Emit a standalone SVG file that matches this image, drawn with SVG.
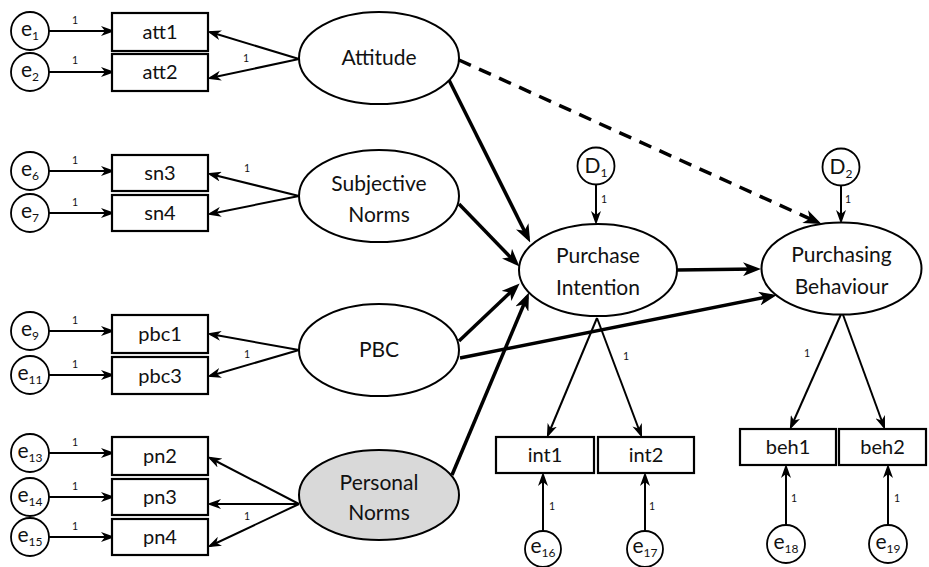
<svg xmlns="http://www.w3.org/2000/svg" width="929" height="567" viewBox="0 0 929 567">
  <style>
    text { font-family: Lato, "Open Sans", "Liberation Sans", sans-serif; fill: #111; }
    .lat { fill: #fff; stroke: #000; stroke-width: 2; }
    .latg { fill: #d9d9d9; stroke: #000; stroke-width: 2; }
    .obs { fill: #fff; stroke: #000; stroke-width: 2.2; }
    .err { fill: #fff; stroke: #000; stroke-width: 1.8; }
    .big { font-size: 21px; text-anchor: middle; }
    .box { font-size: 20px; text-anchor: middle; }
    .ev { font-size: 21px; text-anchor: middle; }
    .sub { font-size: 12px; }
    .one { font-size: 10.5px; text-anchor: middle; }
    .thin { stroke: #000; stroke-width: 2; fill: none; marker-end: url(#ah); }
    .thick { stroke: #000; stroke-width: 3.5; fill: none; marker-end: url(#ahb); }
    .dash { stroke: #000; stroke-width: 3.5; fill: none; stroke-dasharray: 13 9; marker-end: url(#ahb); }
  </style>
  <defs>
    <marker id="ah" markerUnits="userSpaceOnUse" viewBox="0 0 14 10" refX="11" refY="5" markerWidth="14" markerHeight="10" orient="auto">
      <path d="M0,0 L14,5 L0,10 L4,5 z" fill="#000"/>
    </marker>
    <marker id="ahb" markerUnits="userSpaceOnUse" viewBox="0 0 18 14" refX="13" refY="7" markerWidth="18" markerHeight="14" orient="auto">
      <path d="M0,0 L18,7 L0,14 L5,7 z" fill="#000"/>
    </marker>
  </defs>

  <!-- connectors -->
  <g id="connectors">
    <!-- error terms to indicators -->
    <line class="thin" x1="49" y1="31" x2="112" y2="31"/>
    <line class="thin" x1="49" y1="72" x2="112" y2="72"/>
    <line class="thin" x1="49" y1="171" x2="112" y2="171"/>
    <line class="thin" x1="49" y1="213" x2="112" y2="213"/>
    <line class="thin" x1="49" y1="331" x2="112" y2="331"/>
    <line class="thin" x1="49" y1="375" x2="112" y2="375"/>
    <line class="thin" x1="49" y1="453" x2="112" y2="453"/>
    <line class="thin" x1="49" y1="497" x2="112" y2="497"/>
    <line class="thin" x1="49" y1="537" x2="112" y2="537"/>
    <!-- loadings -->
    <line class="thin" x1="299" y1="59" x2="210" y2="32"/>
    <line class="thin" x1="299" y1="59" x2="210" y2="78"/>
    <line class="thin" x1="299" y1="196" x2="210" y2="174"/>
    <line class="thin" x1="299" y1="196" x2="210" y2="214"/>
    <line class="thin" x1="299" y1="350" x2="210" y2="334"/>
    <line class="thin" x1="299" y1="350" x2="210" y2="376"/>
    <line class="thin" x1="299" y1="504" x2="210" y2="458"/>
    <line class="thin" x1="299" y1="504" x2="210" y2="504"/>
    <line class="thin" x1="299" y1="504" x2="210" y2="546"/>
    <line class="thin" x1="597" y1="318" x2="548" y2="435"/>
    <line class="thin" x1="597" y1="318" x2="641" y2="435"/>
    <line class="thin" x1="842" y1="312" x2="791" y2="427"/>
    <line class="thin" x1="842" y1="312" x2="884" y2="427"/>
    <!-- disturbances -->
    <line class="thin" x1="596" y1="185" x2="596" y2="222"/>
    <line class="thin" x1="841" y1="186" x2="841" y2="221"/>
    <!-- measurement errors of outcome indicators -->
    <line class="thin" x1="543" y1="530" x2="543" y2="475"/>
    <line class="thin" x1="645" y1="530" x2="645" y2="475"/>
    <line class="thin" x1="786" y1="525" x2="786" y2="467"/>
    <line class="thin" x1="888" y1="525" x2="888" y2="467"/>
    <!-- structural paths -->
    <line class="thick" x1="449" y1="80" x2="528" y2="238"/>
    <line class="thick" x1="459" y1="204" x2="516" y2="263"/>
    <line class="thick" x1="459" y1="341" x2="516" y2="287"/>
    <line class="thick" x1="452" y1="475" x2="527" y2="297"/>
    <line class="thick" x1="460" y1="358" x2="772" y2="296"/>
    <line class="thick" x1="677" y1="270" x2="756" y2="269"/>
    <line class="dash" x1="459" y1="60" x2="817" y2="222"/>
    <!-- path weights -->
    <text class="one" x="75" y="24">1</text>
    <text class="one" x="75" y="64">1</text>
    <text class="one" x="75" y="164">1</text>
    <text class="one" x="75" y="206">1</text>
    <text class="one" x="75" y="324">1</text>
    <text class="one" x="75" y="368">1</text>
    <text class="one" x="75" y="446">1</text>
    <text class="one" x="75" y="490">1</text>
    <text class="one" x="75" y="530">1</text>
    <text class="one" x="246" y="62">1</text>
    <text class="one" x="247" y="172">1</text>
    <text class="one" x="247" y="358">1</text>
    <text class="one" x="247" y="520">1</text>
    <text class="one" x="604" y="203">1</text>
    <text class="one" x="848" y="203">1</text>
    <text class="one" x="626" y="360">1</text>
    <text class="one" x="807" y="357">1</text>
    <text class="one" x="552" y="510">1</text>
    <text class="one" x="652" y="510">1</text>
    <text class="one" x="794" y="502">1</text>
    <text class="one" x="897" y="502">1</text>
  </g>

  <!-- latent constructs -->
  <g id="attitude"><ellipse class="lat" cx="379" cy="58" rx="80" ry="46"/><text class="big" x="379" y="65">Attitude</text></g>
  <g id="subjective-norms"><ellipse class="lat" cx="379" cy="196" rx="80" ry="46"/><text class="big" x="379" y="191">Subjective</text><text class="big" x="379" y="222">Norms</text></g>
  <g id="pbc"><ellipse class="lat" cx="379" cy="350" rx="80" ry="46"/><text class="big" x="379" y="357">PBC</text></g>
  <g id="personal-norms"><ellipse class="latg" cx="379" cy="495" rx="80" ry="45"/><text class="big" x="379" y="490">Personal</text><text class="big" x="379" y="520">Norms</text></g>
  <g id="purchase-intention"><ellipse class="lat" cx="598" cy="270" rx="79" ry="46"/><text class="big" x="598" y="263">Purchase</text><text class="big" x="598" y="295">Intention</text></g>
  <g id="purchasing-behaviour"><ellipse class="lat" cx="841.5" cy="268.5" rx="80" ry="46"/><text class="big" x="841.5" y="262">Purchasing</text><text class="big" x="841.5" y="294">Behaviour</text></g>

  <!-- disturbances -->
  <g id="d1"><circle class="err" cx="596" cy="166" r="18.5"/><text class="ev" x="596" y="173">D<tspan class="sub" dy="4">1</tspan></text></g>
  <g id="d2"><circle class="err" cx="841" cy="167" r="18.5"/><text class="ev" x="841" y="174">D<tspan class="sub" dy="4">2</tspan></text></g>

  <!-- observed indicators -->
  <g id="att1"><rect class="obs" x="112" y="13" width="96" height="38"/><text class="box" x="160" y="39">att1</text></g>
  <g id="att2"><rect class="obs" x="112" y="54" width="96" height="37"/><text class="box" x="160" y="79">att2</text></g>
  <g id="sn3"><rect class="obs" x="112" y="155" width="96" height="36"/><text class="box" x="160" y="180">sn3</text></g>
  <g id="sn4"><rect class="obs" x="112" y="195" width="96" height="36"/><text class="box" x="160" y="220">sn4</text></g>
  <g id="pbc1"><rect class="obs" x="112" y="315" width="96" height="38"/><text class="box" x="160" y="341">pbc1</text></g>
  <g id="pbc3"><rect class="obs" x="112" y="357" width="96" height="37"/><text class="box" x="160" y="383">pbc3</text></g>
  <g id="pn2"><rect class="obs" x="112" y="437" width="96" height="38"/><text class="box" x="160" y="463">pn2</text></g>
  <g id="pn3"><rect class="obs" x="112" y="479" width="96" height="36"/><text class="box" x="160" y="504">pn3</text></g>
  <g id="pn4"><rect class="obs" x="112" y="519" width="96" height="36"/><text class="box" x="160" y="544">pn4</text></g>
  <g id="int1"><rect class="obs" x="496" y="437" width="98" height="36"/><text class="box" x="545" y="462">int1</text></g>
  <g id="int2"><rect class="obs" x="598" y="437" width="96" height="36"/><text class="box" x="646" y="462">int2</text></g>
  <g id="beh1"><rect class="obs" x="740" y="429" width="96" height="36"/><text class="box" x="788" y="454">beh1</text></g>
  <g id="beh2"><rect class="obs" x="839" y="429" width="87" height="36"/><text class="box" x="882.5" y="454">beh2</text></g>

  <!-- error terms -->
  <g id="e1"><circle class="err" cx="30" cy="31" r="19"/><text class="ev" x="30" y="36">e<tspan class="sub" dy="4">1</tspan></text></g>
  <g id="e2"><circle class="err" cx="30" cy="72" r="19"/><text class="ev" x="30" y="77">e<tspan class="sub" dy="4">2</tspan></text></g>
  <g id="e6"><circle class="err" cx="30" cy="171" r="19"/><text class="ev" x="30" y="176">e<tspan class="sub" dy="4">6</tspan></text></g>
  <g id="e7"><circle class="err" cx="30" cy="213" r="19"/><text class="ev" x="30" y="218">e<tspan class="sub" dy="4">7</tspan></text></g>
  <g id="e9"><circle class="err" cx="30" cy="331" r="19"/><text class="ev" x="30" y="336">e<tspan class="sub" dy="4">9</tspan></text></g>
  <g id="e11"><circle class="err" cx="30" cy="375" r="19"/><text class="ev" x="30" y="380">e<tspan class="sub" dy="4">11</tspan></text></g>
  <g id="e13"><circle class="err" cx="30" cy="453" r="19"/><text class="ev" x="30" y="458">e<tspan class="sub" dy="4">13</tspan></text></g>
  <g id="e14"><circle class="err" cx="30" cy="497" r="19"/><text class="ev" x="30" y="502">e<tspan class="sub" dy="4">14</tspan></text></g>
  <g id="e15"><circle class="err" cx="30" cy="537" r="19"/><text class="ev" x="30" y="542">e<tspan class="sub" dy="4">15</tspan></text></g>
  <g id="e16"><circle class="err" cx="543" cy="549" r="18"/><text class="ev" x="543" y="553">e<tspan class="sub" dy="4">16</tspan></text></g>
  <g id="e17"><circle class="err" cx="645" cy="549" r="18"/><text class="ev" x="645" y="553">e<tspan class="sub" dy="4">17</tspan></text></g>
  <g id="e18"><circle class="err" cx="786" cy="544" r="19"/><text class="ev" x="786" y="549">e<tspan class="sub" dy="4">18</tspan></text></g>
  <g id="e19"><circle class="err" cx="888" cy="544" r="19"/><text class="ev" x="888" y="549">e<tspan class="sub" dy="4">19</tspan></text></g>
</svg>
